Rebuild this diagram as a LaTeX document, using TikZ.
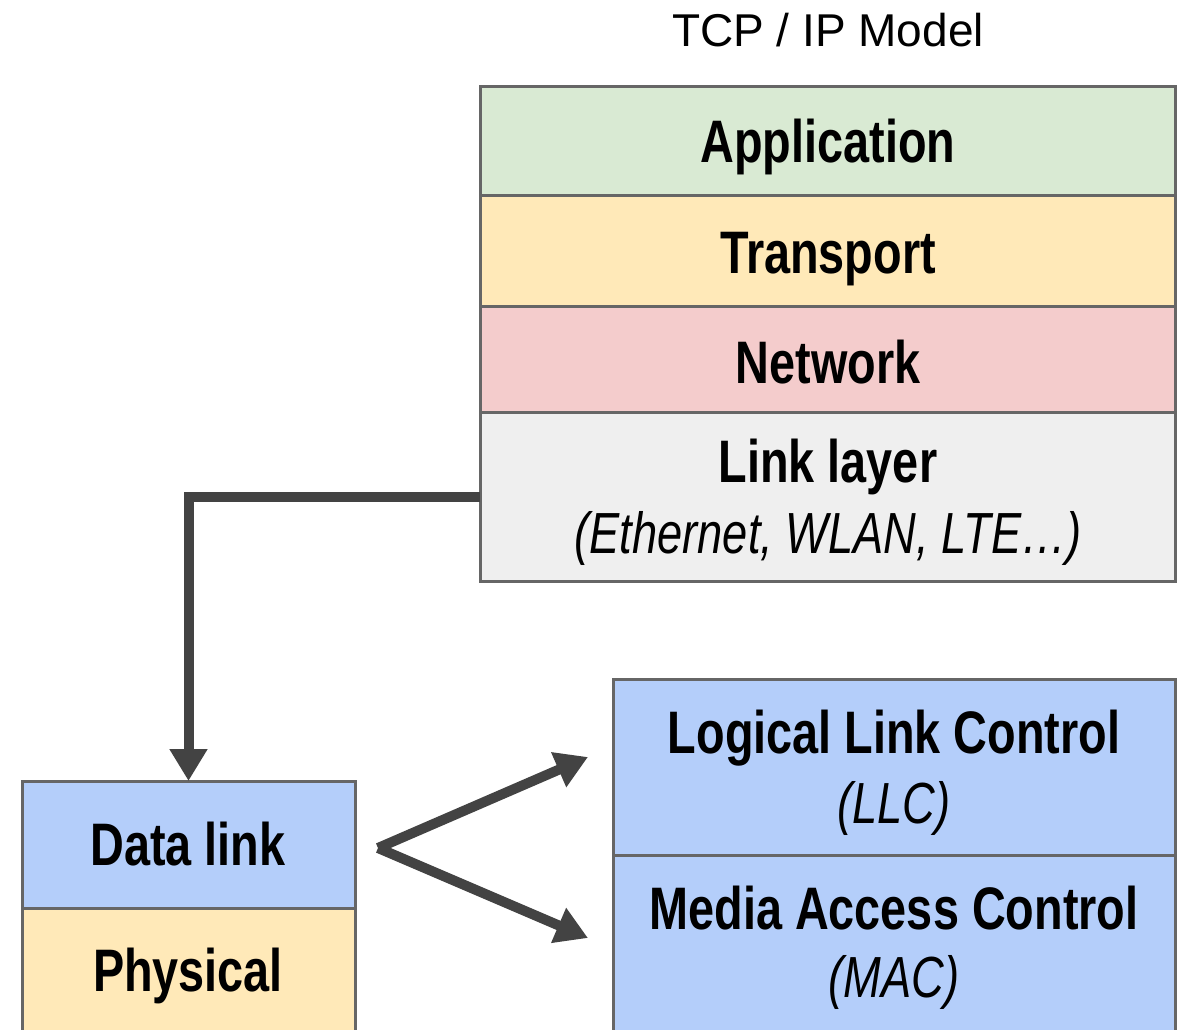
\documentclass[tikz,border=0pt]{standalone}
\usepackage{fontspec}
\setmainfont{Liberation Sans}
\newfontfamily\condensed[FakeStretch=0.78]{Liberation Sans}
\usetikzlibrary{arrows.meta}
\definecolor{edge}{HTML}{666666}
\definecolor{ink}{HTML}{434343}
\definecolor{appfill}{HTML}{D9EAD3}
\definecolor{yellowfill}{HTML}{FFE9B8}
\definecolor{netfill}{HTML}{F4CCCC}
\definecolor{linkfill}{HTML}{EFEFEF}
\definecolor{bluefill}{HTML}{B4CEFA}
\begin{document}
\begin{tikzpicture}[x=1pt,y=-1pt,
  layer/.style={draw=edge, line width=3pt, rectangle, anchor=north west, inner sep=0pt, outer sep=0pt},
  head/.style={font=\condensed\bfseries\fontsize{60}{66}\selectfont, anchor=base, inner sep=0pt},
  sub/.style={font=\condensed\itshape\fontsize{58}{64}\selectfont, anchor=base, inner sep=0pt},
  flow/.style={draw=ink, line width=10pt, -{Triangle[width=36pt,length=32pt]}}]
\useasboundingbox (0,0) rectangle (1186,1030);
\clip (0,0) rectangle (1186,1030);

% TCP/IP stack
\node[layer, fill=appfill,    minimum width=695pt, minimum height=108pt] (app)  at (480,87)  {};
\node[layer, fill=yellowfill, minimum width=695pt, minimum height=111pt] (tr)   at (480,195) {};
\node[layer, fill=netfill,    minimum width=695pt, minimum height=106pt] (net)  at (480,306) {};
\node[layer, fill=linkfill,   minimum width=695pt, minimum height=169pt] (link) at (480,412) {};

% lower stack
\node[layer, fill=bluefill,   minimum width=333pt, minimum height=127pt] (dl)   at (22,781)  {};
\node[layer, fill=yellowfill, minimum width=333pt, minimum height=140pt] (phy)  at (22,908)  {};

% data link sublayers
\node[layer, fill=bluefill,   minimum width=562pt, minimum height=176pt] (llc)  at (613,679) {};
\node[layer, fill=bluefill,   minimum width=562pt, minimum height=190pt] (mac)  at (613,855) {};

% labels
\node[anchor=base, inner sep=0pt, font=\fontsize{46}{52}\selectfont] (title) at (828,47) {TCP / IP Model};
\node[head] (appL)  at (828,163) {Application};
\node[head] (trL)   at (828,273) {Transport};
\node[head] (netL)  at (828,383) {Network};
\node[head] (linkL) at (828,482) {Link layer};
\node[sub]  (linkS) at (828,553) {(Ethernet, WLAN, LTE…)};
\node[head] (dlL)   at (188,865) {Data link};
\node[head] (phyL)  at (188,991) {Physical};
\node[head] (llcL)  at (894,753) {Logical Link Control};
\node[sub]  (llcS)  at (894,823) {(LLC)};
\node[head] (macL)  at (894,929) {Media Access Control};
\node[sub]  (macS)  at (894,997) {(MAC)};

% connectors
\draw[flow] (link.west) -| (dl.north);
\coordinate (fork) at (378,848);
\coordinate (upTip) at (588,757);
\coordinate (downTip) at (588,938);
\draw[flow] (fork) -- (upTip);
\draw[flow] (fork) -- (downTip);
\end{tikzpicture}
\end{document}
